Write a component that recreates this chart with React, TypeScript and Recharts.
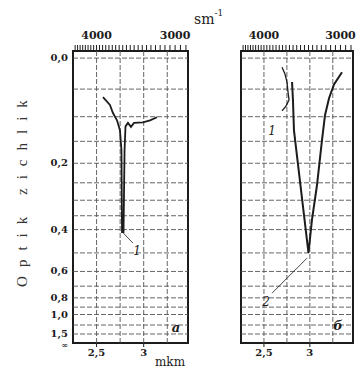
import { LineChart, Line, XAxis, YAxis, ReferenceLine, ReferenceArea, ReferenceDot } from 'recharts'

// wavelength (mkm) and optical density
const leftWave = [2.568, 2.642, 2.674, 2.717, 2.738, 2.748, 2.764, 2.77, 2.786, 2.797, 2.807, 2.833, 2.865, 2.897, 2.992, 3.067, 3.141]
const leftDensity = [0.064, 0.078, 0.093, 0.107, 0.12, 0.127, 0.169, 0.41, 0.41, 0.169, 0.119, 0.112, 0.12, 0.112, 0.111, 0.107, 0.101]

const rightWave1 = [2.697, 2.729, 2.751, 2.762, 2.773, 2.74, 2.697]
const rightDensity1 = [0.014, 0.025, 0.038, 0.055, 0.069, 0.08, 0.089]

const rightWave2 = [2.806, 2.816, 2.827, 2.904, 2.985, 3.023, 3.078, 3.132, 3.165, 3.209, 3.263, 3.35]
const rightDensity2 = [0.038, 0.069, 0.127, 0.27, 0.5, 0.364, 0.256, 0.148, 0.097, 0.066, 0.042, 0.022]

const densityTicks = [0, 0.2, 0.4, 0.6, 0.8, 1.0, 1.5, Infinity]
const gridDensity = [0, 0.05, 0.1, 0.15, 0.2, 0.25, 0.3, 0.35, 0.4, 0.5, 0.6, 0.7, 0.8, 0.9, 1.0, 1.2, 1.5]
const gridWave = [2.5, 2.75, 3.0, 3.25]
const bottomTicks = [2.5, 3]
const bottomLabels = ['2,5', '3']
const topLabels = [4000, 3000]
const rulerWavenumbers = Array.from({ length: 31 }, (_, i) => 4400 - i * 50)

const waveDomain = [2.25, 3.47]
const tDomain = [0, 1.025]
const font = '"DejaVu Serif", serif'
const ink = '#1c1c1c'

// the y axis is linear in transmittance, labelled in optical density
const toT = (d: number) => Math.pow(10, -d)
const series = (w: number[], d: number[]) => w.map((x, i) => ({ x, t: toT(d[i]) }))

const DensityTick = ({ x, y, payload }: any) => {
  const v = payload.value
  const inf = v <= 0
  const label = inf ? '∞' : (-Math.log10(v)).toFixed(1).replace('.', ',')
  return (
    <text x={x} y={y} dy={inf ? 5 : 3} textAnchor="end" fontSize={inf ? 8 : 10} fontFamily={font} fontWeight={600} fill={ink}>
      {label}
    </text>
  )
}

const topFormat = (v: number) => {
  const wn = Math.round(10000 / v)
  return topLabels.includes(wn) ? String(wn) : ''
}

function Panel({ lines, showY, left, width, margin, children }: any) {
  return (
    <div style={{ position: 'absolute', left, top: 0 }}>
      <LineChart width={width} height={370} margin={margin}>
        <XAxis
          dataKey="x"
          type="number"
          domain={waveDomain}
          ticks={bottomTicks}
          interval={0}
          height={20}
          tickSize={4}
          tickMargin={2}
          axisLine={false}
          tickLine={{ stroke: ink }}
          tickFormatter={(v: number) => bottomLabels[bottomTicks.indexOf(v)]}
          tick={{ fontSize: 10, fontFamily: font, fontWeight: 600, fill: ink }}
        />
        <XAxis
          xAxisId="top"
          orientation="top"
          dataKey="x"
          type="number"
          domain={waveDomain}
          ticks={rulerWavenumbers.map((wn) => 10000 / wn)}
          interval={0}
          height={20}
          tickSize={6}
          tickMargin={6}
          axisLine={false}
          tickLine={{ stroke: ink }}
          tickFormatter={topFormat}
          tick={{ fontSize: 11, fontFamily: font, fontWeight: 600, fill: ink }}
        />
        <YAxis
          type="number"
          domain={tDomain}
          ticks={densityTicks.map(toT)}
          interval={0}
          width={22}
          hide={!showY}
          tickSize={0}
          tickMargin={5}
          axisLine={false}
          tickLine={false}
          tick={<DensityTick />}
        />
        {gridDensity.map((d) => (
          <ReferenceLine key={'h' + d} y={toT(d)} stroke="#555" strokeWidth={0.9} strokeDasharray="5 2" />
        ))}
        {gridWave.map((w) => (
          <ReferenceLine key={'v' + w} x={w} stroke="#555" strokeWidth={0.9} strokeDasharray="5 2" />
        ))}
        <ReferenceArea x1={waveDomain[0]} x2={waveDomain[1]} y1={tDomain[0]} y2={tDomain[1]} fill="none" stroke={ink} strokeWidth={2} />
        {/* invisible copy so the top (cm-1) ruler axis is drawn */}
        <Line
          xAxisId="top"
          data={lines[0].data}
          dataKey="t"
          stroke="none"
          dot={false}
          activeDot={false}
          legendType="none"
          isAnimationActive={false}
        />
        {lines.map((l: any, i: number) => (
          <Line
            key={i}
            data={l.data}
            dataKey="t"
            type="linear"
            stroke={ink}
            strokeWidth={l.width}
            dot={false}
            isAnimationActive={false}
          />
        ))}
        {children}
      </LineChart>
    </div>
  )
}

const noteStyle = { fontSize: 12, fontFamily: font, fontStyle: 'italic', fill: ink }

export default function App() {
  return (
    <div style={{ position: 'absolute', left: 0, top: 0, width: 362, height: 370, background: '#fff' }}>
      <Panel
        left={0}
        width={200}
        showY
        margin={{ top: 31, right: 12, bottom: 7, left: 51 }}
        lines={[{ data: series(leftWave, leftDensity), width: 1.8 }]}
      >
        <ReferenceLine segment={[{ x: 2.775, y: toT(0.41) }, { x: 2.886, y: toT(0.455) }]} stroke={ink} strokeWidth={0.8} />
        <ReferenceDot x={2.929} y={toT(0.49)} r={0} stroke="none" fill="none" label={{ value: '1', position: 'center', ...noteStyle }} />
        <ReferenceDot x={3.342} y={toT(1.25)} r={0} stroke="none" fill="none" label={{ value: 'a', position: 'center', ...noteStyle, fontSize: 13, fontWeight: 700 }} />
      </Panel>
      <Panel
        left={200}
        width={162}
        showY={false}
        margin={{ top: 31, right: 9, bottom: 7, left: 41 }}
        lines={[
          { data: series(rightWave1, rightDensity1), width: 1.3 },
          { data: series(rightWave2, rightDensity2), width: 2 },
        ]}
      >
        <ReferenceLine segment={[{ x: 2.588, y: toT(0.757) }, { x: 2.969, y: toT(0.526) }]} stroke={ink} strokeWidth={0.8} />
        <ReferenceDot x={2.522} y={toT(0.84)} r={0} stroke="none" fill="none" label={{ value: '2', position: 'center', ...noteStyle }} />
        <ReferenceDot x={2.588} y={toT(0.127)} r={0} stroke="none" fill="none" label={{ value: '1', position: 'center', ...noteStyle }} />
        <ReferenceDot x={3.307} y={toT(1.22)} r={0} stroke="none" fill="none" label={{ value: 'б', position: 'center', ...noteStyle, fontSize: 13, fontWeight: 700 }} />
      </Panel>
      <svg width={362} height={370} style={{ position: 'absolute', left: 0, top: 0, pointerEvents: 'none' }}>
        <text x={194} y={24} fontSize={14} fontFamily={font} fill={ink}>
          sm<tspan dy={-8} fontSize={9}>-1</tspan>
        </text>
        <text x={170} y={366} textAnchor="middle" fontSize={12} fontFamily={font} fill={ink}>
          mkm
        </text>
        <text
          transform="translate(27,189) rotate(-90)"
          textAnchor="middle"
          fontSize={15}
          letterSpacing={9}
          fontFamily='"Liberation Serif", serif'
          fill="#333"
        >
          Optik zichlik
        </text>
      </svg>
    </div>
  )
}
